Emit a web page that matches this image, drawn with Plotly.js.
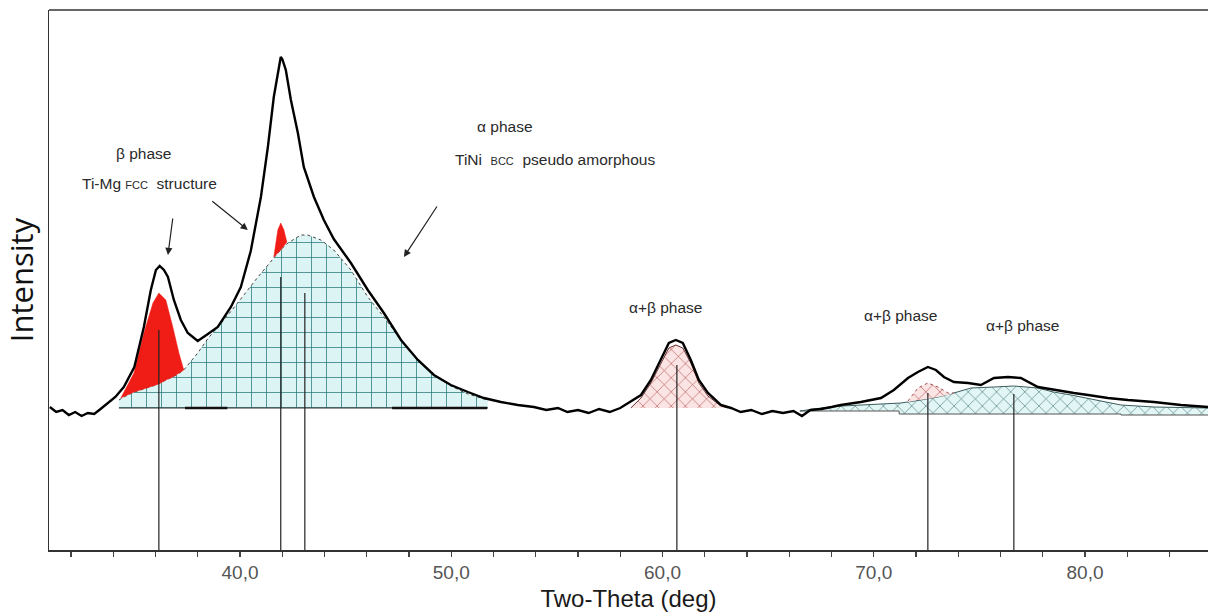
<!DOCTYPE html>
<html>
<head>
<meta charset="utf-8">
<script src="https://cdn.plot.ly/plotly-3.0.1.min.js"></script>
<style>
  html, body { margin: 0; padding: 0; background: #fff; }
  #chart { width: 1208px; height: 613px; }
</style>
</head>
<body>
<div id="chart"></div>
<script>
// Measured XRD pattern (2θ in degrees, intensity in arbitrary units above background)
const obsTheta = [31.0, 31.3, 31.6, 31.9, 32.2, 32.5, 32.8, 33.1, 33.4, 33.7, 33.9, 34.1, 34.5, 35.0, 35.45, 35.78, 36.02, 36.2, 36.4, 36.59, 36.87, 37.2, 37.53, 38.0, 38.48, 38.95, 39.57, 40.04, 40.51, 40.99, 41.32, 41.6, 41.93, 42.0, 42.17, 42.41, 42.74, 43.02, 43.5, 43.97, 44.44, 45.11, 45.25, 46.05, 46.81, 47.62, 48.42, 49.18, 49.98, 50.79, 51.54, 52.35, 53.15, 53.91, 54.5, 55.05, 55.5, 56.0, 56.5, 57.0, 57.5, 58.0, 58.5, 58.98, 59.45, 59.92, 60.3, 60.63, 60.96, 61.34, 61.72, 62.15, 62.76, 63.24, 63.7, 64.2, 64.7, 65.2, 65.7, 66.2, 66.6, 67.0, 67.5, 68.0, 68.44, 69.39, 70.34, 70.95, 71.62, 72.09, 72.56, 72.94, 73.32, 73.79, 74.46, 75.07, 75.69, 76.35, 76.96, 77.77, 78.53, 79.47, 80.14, 81.08, 82.03, 83.26, 84.54, 85.82];
const obsIntensity = [1, -4, -2, -7, -4, -8, -5, -6, -1, 4, 8, 11, 21, 41, 81, 118, 138, 142, 138, 131, 108, 88, 75, 67, 74, 81, 101, 121, 157, 211, 261, 311, 351, 349, 338, 308, 275, 241, 211, 188, 169, 150, 145, 118, 95, 68, 48, 33, 23, 16, 10, 6, 3, 1, -2, 0, -4, -2, -5, -1, -4, 0, 7, 13, 28, 48, 65, 68, 65, 48, 28, 15, 3, 0, -4, -2, -6, -3, -5, -3, -8, -2, -1, 1, 3, 6, 10, 18, 30, 36, 41, 38, 31, 26, 25, 23, 30, 31, 30, 21, 18, 15, 13, 10, 8, 6, 3, 1];

// α phase, TiNi BCC broad component (~43.1°)
const alphaTheta = [34.27, 34.5, 35.0, 35.45, 36.0, 36.5, 37.0, 37.34, 38.0, 38.5, 39.24, 40.0, 40.85, 41.6, 41.79, 42.2, 42.5, 42.88, 43.2, 43.83, 44.44, 45.25, 46.05, 46.81, 47.62, 48.42, 49.18, 49.98, 50.79, 51.54, 51.73];
const alphaIntensity = [8, 11, 16, 19, 23, 28, 33, 38, 55, 70, 88, 108, 131, 150, 155, 164, 168, 173, 173, 168, 158, 138, 111, 91, 68, 48, 33, 22, 14, 9, 8];

// β phase, Ti-Mg FCC component (~36.2°), sitting on the α component
const beta1Theta = [34.36, 34.98, 35.45, 35.88, 36.16, 36.49, 36.82, 37.11, 37.34];
const beta1Top = [10, 35, 75, 105, 115, 108, 81, 55, 38];
const beta1Base = [10, 16, 19, 22, 24, 28, 31, 35, 38];

// Narrow β component (~42.0°)
const beta2Theta = [41.6, 41.79, 41.93, 42.08, 42.22];
const beta2Top = [151, 178, 185, 178, 166];
const beta2Base = [151, 155, 158, 162, 166];

// α+β component (~60.7°)
const ab1Theta = [58.5, 58.98, 59.45, 59.92, 60.3, 60.63, 60.96, 61.34, 61.72, 62.15, 62.76, 63.09];
const ab1Intensity = [0, 10, 25, 45, 60, 63, 60, 45, 25, 12, 2, 0];

// α+β broad component (~76.6°) and its stepped background
const ab3Theta = [66.5, 67.5, 68.5, 69.5, 70.34, 71.28, 72.23, 72.56, 73.04, 73.79, 74.6, 75.69, 76.63, 77.77, 78.5, 79.33, 80.89, 81.7, 83.26, 85.82];
const ab3Intensity = [-3, 0, 2, 3, 4, 5, 8, 9, 11, 15, 20, 21, 22, 20, 16, 13, 6, 3, 1, 0];
const ab3BgTheta = [66.5, 71.2, 71.2, 81.7, 81.7, 85.82];
const ab3BgIntensity = [-3, -3, -6, -6, -7, -7];

// α+β component (~72.5°), sitting on the broad one
const ab2Theta = [71.62, 72.09, 72.56, 73.04, 73.51, 73.79];
const ab2Top = [7, 20, 25, 21, 15, 15];
const ab2Base = [6, 8, 9, 11, 13, 15];

// Peak position markers and their heights
const markerTheta = [36.16, 41.93, 43.07, 60.68, 72.56, 76.63];
const markerHeight = [78, 131, 115, 43, 15, 14];
const markerFloor = -142;

// Heavy background segments
const bgSegTheta = [37.4, 39.4, null, 47.2, 51.7];
const bgSegIntensity = [0, 0, null, 0, 0];

// Axis ticks
const tickValues = [32, 34, 36, 38, 40, 42, 44, 46, 48, 50, 52, 54, 56, 58, 60, 62, 64, 66, 68, 70, 72, 74, 76, 78, 80, 82, 84];
const tickLabels = ['', '', '', '', '40,0', '', '', '', '', '50,0', '', '', '', '', '60,0', '', '', '', '', '70,0', '', '', '', '', '80,0', '', ''];

// Phase labels
const labelText = ['β phase', 'Ti-Mg <span style="font-size:11px">FCC</span>  structure', 'α phase', 'TiNi  <span style="font-size:11px">BCC</span>  pseudo amorphous', 'α+β phase', 'α+β phase', 'α+β phase'];
const labelTheta = [35.45, 35.73, 52.54, 50.08, 60.16, 71.28, 77.06];
const labelIntensity = [255, 225, 282, 249, 101, 93, 83];
const labelAnchor = ['center', 'center', 'center', 'left', 'center', 'center', 'center'];

// Arrows (tip position, tail offset in px)
const arrowTheta = [36.59, 40.37, 47.76];
const arrowIntensity = [153, 178, 151];
const arrowDx = [5, -37, 34];
const arrowDy = [-38, -30, -52];

const gridFill = { shape: '+', bgcolor: '#dcf4f4', fgcolor: '#2b7c7e', size: 15, solidity: 0.1, fillmode: 'replace' };
const pinkHatch = { shape: 'x', bgcolor: '#fbe4e4', fgcolor: '#b45454', size: 10, solidity: 0.12, fillmode: 'replace' };
const cyanHatch = { shape: 'x', bgcolor: '#e2f6f6', fgcolor: '#4a7474', size: 10, solidity: 0.12, fillmode: 'replace' };

const reversed = a => a.slice().reverse();
const noLine = { width: 0, color: 'rgba(0,0,0,0)' };

const traces = [
  // α broad component with grid pattern
  { x: alphaTheta, y: alphaIntensity, type: 'scatter', mode: 'lines', fill: 'tozeroy',
    fillcolor: '#dcf4f4', fillpattern: gridFill, line: noLine, hoverinfo: 'skip' },
  { x: alphaTheta, y: alphaIntensity, type: 'scatter', mode: 'lines',
    line: { color: '#444', width: 1, dash: 'dot' }, hoverinfo: 'skip' },
  { x: [alphaTheta[0], alphaTheta[alphaTheta.length - 1]], y: [0, 0], type: 'scatter', mode: 'lines',
    line: { color: '#333', width: 1 }, hoverinfo: 'skip' },

  // β components stacked on the α component
  { x: beta1Theta.concat(reversed(beta1Theta)), y: beta1Top.concat(reversed(beta1Base)), type: 'scatter',
    mode: 'lines', fill: 'toself', fillcolor: '#f01d16', line: { color: '#f01d16', width: 0.5 }, hoverinfo: 'skip' },
  { x: beta2Theta.concat(reversed(beta2Theta)), y: beta2Top.concat(reversed(beta2Base)), type: 'scatter',
    mode: 'lines', fill: 'toself', fillcolor: '#f01d16', line: { color: '#f01d16', width: 0.5 }, hoverinfo: 'skip' },

  // α+β at ~60.7°
  { x: ab1Theta, y: ab1Intensity, type: 'scatter', mode: 'lines', fill: 'tozeroy',
    fillcolor: '#fbe4e4', fillpattern: pinkHatch, line: { color: '#6a3030', width: 1 }, hoverinfo: 'skip' },

  // α+β broad component at ~76.6° over its background
  { x: ab3BgTheta, y: ab3BgIntensity, type: 'scatter', mode: 'lines',
    line: { color: '#555', width: 1 }, hoverinfo: 'skip' },
  { x: ab3Theta, y: ab3Intensity, type: 'scatter', mode: 'lines', fill: 'tonexty',
    fillcolor: '#e2f6f6', fillpattern: cyanHatch, line: { color: '#3c5c5c', width: 1 }, hoverinfo: 'skip' },

  // α+β at ~72.5° stacked on the broad component
  { x: ab2Theta, y: ab2Base, type: 'scatter', mode: 'lines', line: noLine, hoverinfo: 'skip' },
  { x: ab2Theta, y: ab2Top, type: 'scatter', mode: 'lines', fill: 'tonexty',
    fillcolor: '#fbe4e4', fillpattern: pinkHatch, line: { color: '#a05050', width: 1, dash: 'dot' }, hoverinfo: 'skip' },

  // heavy background segments
  { x: bgSegTheta, y: bgSegIntensity, type: 'scatter', mode: 'lines',
    line: { color: '#111', width: 2.5 }, connectgaps: false, hoverinfo: 'skip' },

  // peak position markers
  { x: markerTheta.flatMap(t => [t, t, null]),
    y: markerHeight.flatMap(h => [markerFloor, h, null]),
    type: 'scatter', mode: 'lines', line: { color: '#222', width: 1.2 }, connectgaps: false, hoverinfo: 'skip' },

  // measured pattern
  { x: obsTheta, y: obsIntensity, type: 'scatter', mode: 'lines',
    line: { color: '#000', width: 2.4 }, hoverinfo: 'skip' }
];

const annotations = labelText.map((t, i) => ({
  x: labelTheta[i], y: labelIntensity[i], xref: 'x', yref: 'y', text: t, showarrow: false,
  xanchor: labelAnchor[i], yanchor: 'middle',
  font: { family: 'Liberation Sans', size: 15.5, color: '#2a2a2a' }
})).concat(arrowTheta.map((t, i) => ({
  x: t, y: arrowIntensity[i], xref: 'x', yref: 'y', text: '', showarrow: true,
  ax: arrowDx[i], ay: arrowDy[i], arrowhead: 2, arrowsize: 1.2, arrowwidth: 1.2, arrowcolor: '#222'
})));

const layout = {
  width: 1208, height: 613,
  margin: { l: 49, r: 0, t: 10, b: 63 },
  paper_bgcolor: '#fff', plot_bgcolor: '#fff',
  showlegend: false,
  xaxis: {
    range: [30.96, 85.82], tickmode: 'array', tickvals: tickValues, ticktext: tickLabels,
    ticks: 'outside', ticklen: 5, tickwidth: 1.2, tickcolor: '#444',
    showline: true, linecolor: '#333', linewidth: 1.5, showgrid: false, zeroline: false,
    tickfont: { family: 'Liberation Sans', size: 19, color: '#555' },
    title: { text: 'Two-Theta (deg)', font: { family: 'Liberation Sans', size: 24, color: '#1a1a1a' }, standoff: 8 }
  },
  yaxis: {
    range: [-142, 398], showticklabels: false, ticks: '',
    showline: true, linecolor: '#333', linewidth: 1.5, showgrid: false, zeroline: false,
    title: { text: 'Intensity', font: { family: 'Open Sans', size: 31, color: '#111' }, standoff: 4 }
  },
  shapes: [
    { type: 'line', xref: 'paper', yref: 'paper', x0: 0, x1: 1, y0: 1, y1: 1, line: { color: '#666', width: 2 } }
  ],
  annotations: annotations
};

Plotly.newPlot('chart', traces, layout, { staticPlot: true, displayModeBar: false });
</script>
</body>
</html>
